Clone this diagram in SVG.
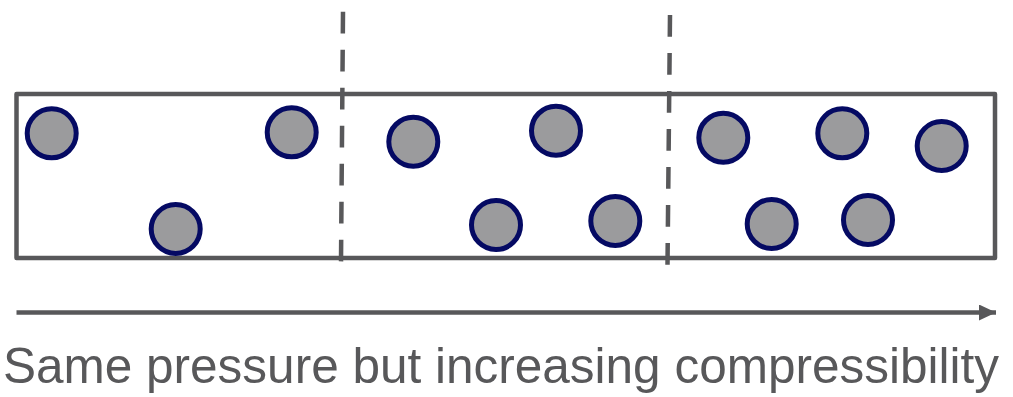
<svg xmlns="http://www.w3.org/2000/svg" width="1013" height="397" viewBox="0 0 1013 397">
  <style>
    .box { fill: none; stroke: #58585a; stroke-width: 4.5; stroke-linejoin: round; }
    .divider { stroke: #58585a; stroke-width: 4.5; stroke-dasharray: 21.7 16.3; fill: none; }
    .particle { fill: #9b9b9d; stroke: #050a63; stroke-width: 5; }
    .axis { stroke: #58585a; stroke-width: 4.5; fill: none; }
    .caption { font-family: "Liberation Sans", Arial, sans-serif; font-size: 50px; fill: #58585a; }
  </style>
  <defs>
    <marker id="head" markerUnits="userSpaceOnUse" markerWidth="18" markerHeight="16" refX="17" refY="8" orient="auto">
      <path d="M0,0 L17,8 L0,16 Z" fill="#58585a"/>
    </marker>
  </defs>

  <!-- container -->
  <g id="container">
    <rect class="box" x="16.5" y="94" width="978.5" height="164"/>
  </g>

  <!-- region dividers -->
  <g id="dividers">
    <line class="divider" x1="343" y1="11.7" x2="341" y2="262"/>
    <line class="divider" x1="670" y1="15" x2="667.5" y2="265"/>
  </g>

  <!-- particles -->
  <g id="particles">
    <circle id="p1" class="particle" cx="51.7" cy="133.3" r="24.5"/>
    <circle id="p2" class="particle" cx="291.7" cy="132.3" r="24.5"/>
    <circle id="p3" class="particle" cx="175.7" cy="229" r="24.5"/>
    <circle id="p4" class="particle" cx="413.3" cy="141.7" r="24.5"/>
    <circle id="p5" class="particle" cx="556" cy="130.7" r="24.5"/>
    <circle id="p6" class="particle" cx="496" cy="225" r="24.5"/>
    <circle id="p7" class="particle" cx="615.3" cy="221" r="24.5"/>
    <circle id="p8" class="particle" cx="723.3" cy="137.7" r="24.5"/>
    <circle id="p9" class="particle" cx="842.3" cy="133.3" r="24.5"/>
    <circle id="p10" class="particle" cx="941.7" cy="146" r="24.5"/>
    <circle id="p11" class="particle" cx="771.7" cy="224" r="24.5"/>
    <circle id="p12" class="particle" cx="868" cy="220" r="24.5"/>
  </g>

  <!-- direction arrow -->
  <g id="connectors">
    <line class="axis" x1="16.5" y1="312.5" x2="996" y2="312.5" marker-end="url(#head)"/>
  </g>

  <g id="caption">
    <text class="caption" x="3" y="383" textLength="996" lengthAdjust="spacingAndGlyphs">Same pressure but increasing compressibility</text>
  </g>
</svg>
